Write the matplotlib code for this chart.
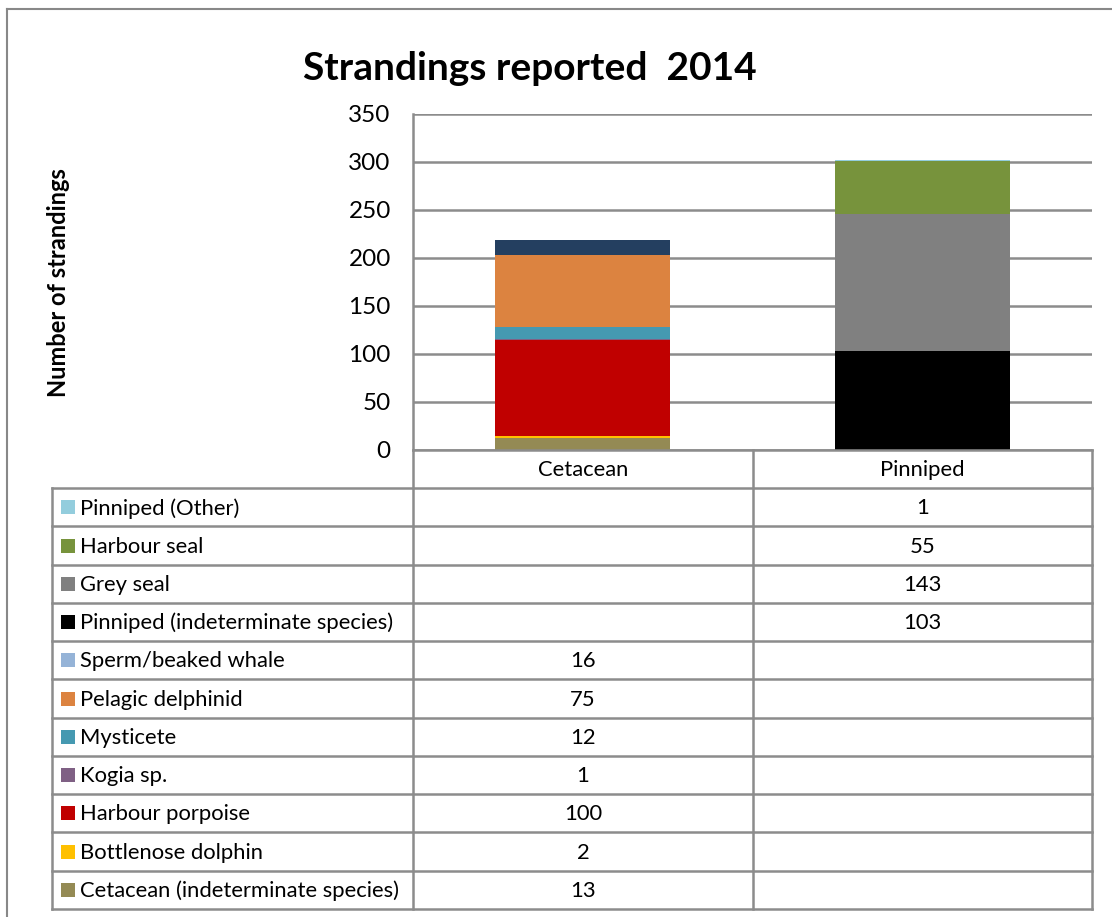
import matplotlib
matplotlib.use("Agg")
import matplotlib.pyplot as plt
import numpy as np

# --- data ---
title = "Strandings reported  2014"
ylabel = "Number of strandings"
categories = ["Cetacean", "Pinniped"]
series = ["Cetacean (indeterminate species)", "Bottlenose dolphin", "Harbour porpoise",
          "Kogia sp.", "Mysticete", "Pelagic delphinid", "Sperm/beaked whale",
          "Pinniped (indeterminate species)", "Grey seal", "Harbour seal", "Pinniped (Other)"]
cetacean_vals = [13, 2, 100, 1, 12, 75, 16, None, None, None, None]
pinniped_vals = [None, None, None, None, None, None, None, 103, 143, 55, 1]
yticks = [0, 50, 100, 150, 200, 250, 300, 350]

# --- styles ---
bar_colors = ["#948A54", "#FFC000", "#C00000", "#7F6084", "#4599B1", "#DC8340",
              "#243F60", "#000000", "#808080", "#77933C", "#93CDDD"]
key_colors = list(bar_colors)
key_colors[6] = "#95B3D7"   # key in the table differs from the bar
grid_c = "#8C8C8C"
font = "Lato"
txt = 15.8

W, H = 1112, 917
fig = plt.figure(figsize=(W / 100, H / 100), dpi=100)

def fx(px):
    return px / W

def fy(py):
    return 1 - py / H

# outer chart border (only top/left visible)
fig.add_artist(plt.Line2D([fx(7), fx(7)], [fy(9), 0], color="#888888", lw=1.5))
fig.add_artist(plt.Line2D([fx(7), 1], [fy(9), fy(9)], color="#888888", lw=1.5))

# --- plot area ---
L, R, T, B = 413, 1092, 114, 450
ax = fig.add_axes([fx(L), fy(B), fx(R - L), (B - T) / H])
x = np.arange(len(categories))
bottom = np.zeros(len(categories))
for name, cv, pv, c in zip(series, cetacean_vals, pinniped_vals, bar_colors):
    vals = np.array([cv or 0, pv or 0], dtype=float)
    ax.bar(x, vals, width=0.516, bottom=bottom, color=c, linewidth=0, zorder=3)
    bottom += vals

ax.set_xlim(-0.5, 1.5)
ax.set_ylim(0, 350)
ax.set_yticks(yticks)
ax.set_yticklabels([str(t) for t in yticks], fontsize=17.5, family=font)
ax.tick_params(axis="y", length=0, pad=16)
ax.set_xticks([])
ax.yaxis.grid(True, color=grid_c, lw=1.8, zorder=0)
for s in ["top", "right", "bottom"]:
    ax.spines[s].set_visible(False)
ax.spines["left"].set_color(grid_c)
ax.spines["left"].set_linewidth(1.8)

fig.text(fx(530), fy(68), title, ha="center", va="center", fontsize=28,
         fontweight="bold", family=font)
fig.text(fx(58), fy(283), ylabel, ha="center", va="center", rotation=90,
         fontsize=17, fontweight="bold", family=font)

# --- data table (pixel coordinates for layout) ---
TL, TT, TB = 52, 450, 909
tab = fig.add_axes([fx(TL), fy(TB), fx(R - TL), (TB - TT) / H])
tab.set_xlim(TL, R)
tab.set_ylim(TB, TT)
tab.axis("off")

nrows = len(series) + 1
rh = (TB - TT) / nrows
col_x = [TL, L, 753, R]
lk = dict(color=grid_c, lw=1.8, clip_on=False)

# horizontal lines
tab.plot([L, R], [TT, TT], **lk)
for i in range(1, nrows + 1):
    y = TT + i * rh
    tab.plot([TL, R], [y, y], **lk)
# vertical lines
tab.plot([TL, TL], [TT + rh, TB], **lk)
for cx in col_x[1:]:
    tab.plot([cx, cx], [TT, TB], **lk)

centers = [(col_x[1] + col_x[2]) / 2, (col_x[2] + col_x[3]) / 2]
for cx, cat in zip(centers, categories):
    tab.text(cx, TT + rh / 2 + 1, cat, ha="center", va="center", fontsize=txt, family=font)

rows = list(zip(series, cetacean_vals, pinniped_vals, key_colors))[::-1]
for i, (name, cv, pv, kc) in enumerate(rows):
    yc = TT + (i + 1.5) * rh
    tab.add_patch(plt.Rectangle((61, yc - 7), 14, 14, color=kc, lw=0))
    tab.text(80, yc + 1, name, ha="left", va="center", fontsize=txt, family=font)
    for cx, v in zip(centers, [cv, pv]):
        if v is not None:
            tab.text(cx, yc + 1, str(v), ha="center", va="center", fontsize=txt, family=font)

fig.savefig("out.png", dpi=100)
